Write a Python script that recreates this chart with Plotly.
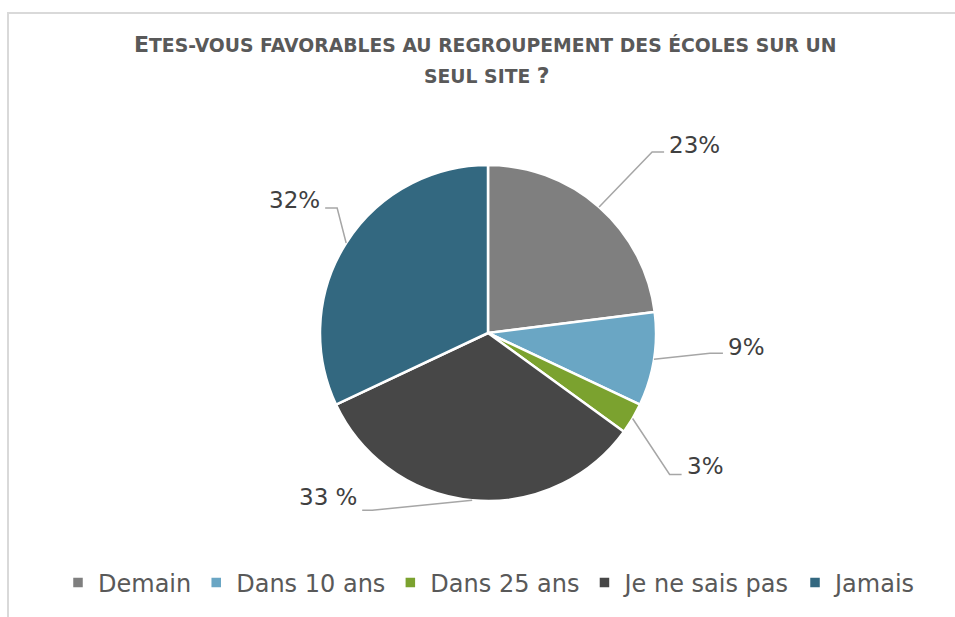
import math
import plotly.graph_objects as go

# ---- data ----
categories = ["Demain", "Dans 10 ans", "Dans 25 ans", "Je ne sais pas", "Jamais"]
values = [23, 9, 3, 33, 32]
value_labels = ["23%", "9%", "3%", "33 %", "32%"]
colors = ["#7f7f7f", "#6aa6c4", "#7ba22f", "#474747", "#336880"]

# ---- layout constants (pixels) ----
W, H = 955, 617
CX, CY, R = 488, 333, 168
# per-label leader geometry: elbow offset from slice edge point, stub length, side
leader = [
    dict(edx=53, edy=-55, stub=12, side="right", ty=-7),
    dict(edx=56, edy=-6, stub=13, side="right", ty=-6),
    dict(edx=37, edy=56, stub=12, side="right", ty=-9),
    dict(edx=-100, edy=10, stub=10, side="left", ty=-13),
    dict(edx=-9, edy=-35, stub=12, side="left", ty=-8),
]
TEXT_FONT = "'DejaVu Sans', sans-serif"


def px(x):
    return x / W


def py(y):
    return 1 - y / H


fig = go.Figure()
fig.add_trace(go.Pie(
    labels=categories,
    values=values,
    sort=False,
    direction="clockwise",
    rotation=0,
    textinfo="none",
    marker=dict(colors=colors, line=dict(color="white", width=2.5)),
    domain=dict(x=[px(CX - R), px(CX + R)], y=[py(CY + R), py(CY - R)]),
    showlegend=True,
    hoverinfo="label+percent",
))

shapes = []
annotations = []

# frame border
shapes.append(dict(type="path", xref="paper", yref="paper",
                   path=f"M {px(8)},{py(617)} L {px(8)},{py(13)} L {px(960)},{py(13)}",
                   line=dict(color="#d9d9d9", width=2)))

total = sum(values)
cum = 0
for v, lab, ld in zip(values, value_labels, leader):
    mid = (cum + v / 2) / total * 2 * math.pi
    cum += v
    ex = CX + R * math.sin(mid)
    ey = CY - R * math.cos(mid)
    bx, by = ex + ld["edx"], ey + ld["edy"]
    sgn = 1 if ld["side"] == "right" else -1
    sx = bx + sgn * ld["stub"]
    shapes.append(dict(type="path", xref="paper", yref="paper",
                       path=f"M {px(ex)},{py(ey)} L {px(bx)},{py(by)} L {px(sx)},{py(by)}",
                       line=dict(color="#a6a6a6", width=1.5)))
    annotations.append(dict(
        x=px(sx + sgn * 3), y=py(by + ld["ty"]), xref="paper", yref="paper",
        text=lab, showarrow=False,
        xanchor="left" if sgn > 0 else "right", yanchor="middle",
        font=dict(family=TEXT_FONT, size=23, color="#404040"),
    ))

# title (small caps emulation)
title_font = "'DejaVu Sans', sans-serif"
annotations.append(dict(
    x=px(485), y=py(45), xref="paper", yref="paper", showarrow=False,
    xanchor="center", yanchor="middle",
    text="<b><span style='font-size:22px'>E</span>TES-VOUS FAVORABLES AU REGROUPEMENT DES ÉCOLES SUR UN</b>",
    font=dict(family=title_font, size=18.8, color="#595959"),
))
annotations.append(dict(
    x=px(487), y=py(75), xref="paper", yref="paper", showarrow=False,
    xanchor="center", yanchor="middle",
    text="<b>SEUL SITE <span style='font-size:22px'>?</span></b>",
    font=dict(family=title_font, size=18.8, color="#595959"),
))

fig.update_layout(
    width=W, height=H,
    margin=dict(l=0, r=0, t=0, b=0),
    paper_bgcolor="white",
    plot_bgcolor="white",
    shapes=shapes,
    annotations=annotations,
    legend=dict(
        orientation="h", x=px(490), xanchor="center", y=py(583), yanchor="middle",
        font=dict(family=TEXT_FONT, size=24, color="#595959"),
        itemclick=False,
    ),
)

fig.write_html("out.html", config={"displayModeBar": False},
               post_script="document.body.style.margin='0';document.body.style.overflow='hidden';")
